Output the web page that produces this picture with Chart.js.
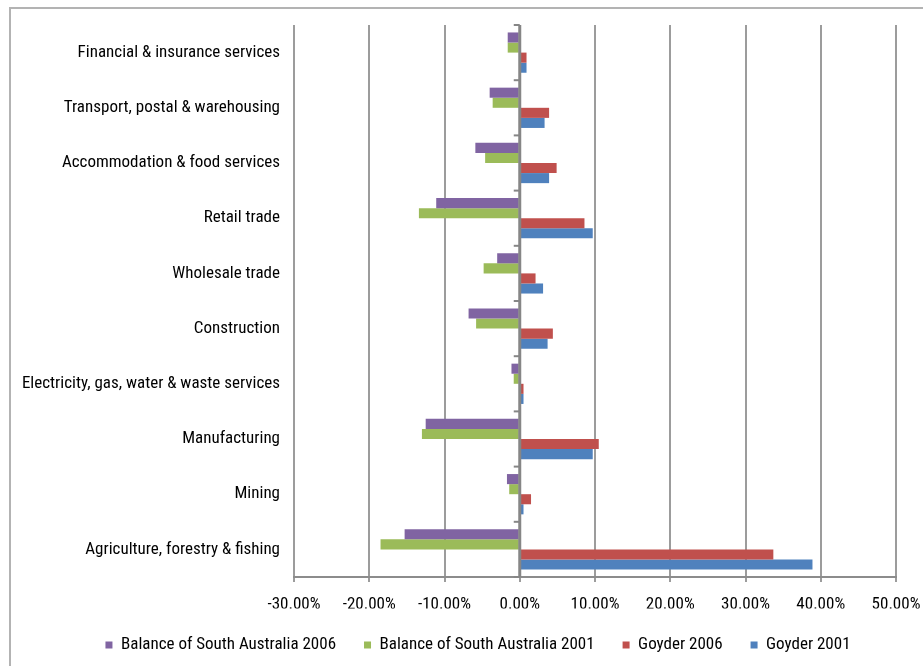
<!DOCTYPE html>
<html>
<head>
<meta charset="utf-8">
<script src="https://cdn.jsdelivr.net/npm/chart.js@4"></script>
<style>
    html, body { margin: 0; padding: 0; background: #fff; overflow: hidden; }
    .frame { position: absolute; left: 9px; top: 7px; width: 940px; height: 700px; border: 2px solid #b3b3b3; }
    .wrap { position: absolute; left: 0; top: 0; width: 923px; height: 666px; }
</style>
</head>
<body>
<div class="frame"></div>
<div class="wrap"><canvas id="chart" width="923" height="666"></canvas></div>
<script>
// industry share differences (%), top to bottom as in the chart
const categories = [
    'Financial & insurance services',
    'Transport, postal & warehousing',
    'Accommodation & food services',
    'Retail trade',
    'Wholesale trade',
    'Construction',
    'Electricity, gas, water & waste services',
    'Manufacturing',
    'Mining',
    'Agriculture, forestry & fishing'
];
const balance2006 = [-1.6, -4.0, -5.9, -11.1, -3.0, -6.8, -1.1, -12.5, -1.7, -15.3];
const balance2001 = [-1.6, -3.6, -4.6, -13.4, -4.8, -5.8, -0.8, -13.0, -1.4, -18.5];
const goyder2006 = [0.9, 3.9, 4.9, 8.6, 2.1, 4.4, 0.5, 10.5, 1.5, 33.7];
const goyder2001 = [0.9, 3.3, 3.9, 9.7, 3.1, 3.7, 0.5, 9.7, 0.5, 38.9];
const xTicks = [-30, -20, -10, 0, 10, 20, 30, 40, 50];

const FONT = "'Roboto Condensed', 'Liberation Sans Narrow', sans-serif";

// zero axis line with small category tick marks, drawn over the bars
const zeroAxis = {
    id: 'zeroAxis',
    beforeInit(chart) {
        // fixed legend height, and nudge it right like Excel's legend
        const lg = chart.legend;
        const fit = lg.fit;
        lg.fit = function () {
            fit.call(this);
            this.height = 57.5;
        };
        const draw = lg.draw;
        lg.draw = function () {
            this.left += 22;
            this.right += 22;
            draw.call(this);
            this.left -= 22;
            this.right -= 22;
        };
    },
    afterDatasetsDraw(chart) {
        const { ctx, chartArea, scales } = chart;
        const x0 = scales.x.getPixelForValue(0);
        const n = categories.length;
        const step = (chartArea.bottom - chartArea.top) / n;
        ctx.save();
        ctx.strokeStyle = '#868686';
        ctx.lineWidth = 3;
        ctx.beginPath();
        ctx.moveTo(x0, chartArea.top);
        ctx.lineTo(x0, chartArea.bottom);
        ctx.stroke();
        ctx.lineWidth = 2;
        for (let i = 0; i <= n; i++) {
            const y = chartArea.top + i * step;
            ctx.beginPath();
            ctx.moveTo(x0 - 6, y);
            ctx.lineTo(x0, y);
            ctx.stroke();
        }
        ctx.restore();
    }
};

const mk = (label, data, color) => ({
    label: label,
    data: data,
    backgroundColor: color,
    borderWidth: 0,
    barPercentage: 1,
    categoryPercentage: 0.73
});

new Chart(document.getElementById('chart'), {
    type: 'bar',
    data: {
        labels: categories,
        datasets: [
            mk('Balance of South Australia 2006', balance2006, '#8064A2'),
            mk('Balance of South Australia 2001', balance2001, '#9BBB59'),
            mk('Goyder 2006', goyder2006, '#C0504D'),
            mk('Goyder 2001', goyder2001, '#4F81BD')
        ]
    },
    options: {
        indexAxis: 'y',
        responsive: false,
        animation: false,
        devicePixelRatio: 1,
        layout: { padding: { top: 25, right: 27, bottom: 0, left: 16 } },
        plugins: {
            legend: {
                position: 'bottom',
                labels: {
                    color: '#000',
                    font: { family: FONT, size: 17 },
                    boxWidth: 7,
                    boxHeight: 7,
                    padding: 28
                }
            },
            tooltip: { enabled: false }
        },
        scales: {
            x: {
                min: -30,
                max: 50,
                afterBuildTicks: (s) => { s.ticks = xTicks.map(v => ({ value: v })); },
                afterFit: (s) => {
                    s.height = 31.5;
                    s.paddingLeft = 0;
                    s.paddingRight = 0;
                },
                grid: { color: '#9c9c9c', lineWidth: 2, tickLength: 5, drawTicks: true },
                border: { color: '#8c8c8c', width: 2 },
                ticks: {
                    color: '#000',
                    font: { family: FONT, size: 17 },
                    padding: 13,
                    maxRotation: 0,
                    callback: (v) => Number(v).toFixed(2) + '%'
                }
            },
            y: {
                afterFit: (s) => { s.width = 278; },
                grid: { display: false, drawTicks: false },
                border: { display: false },
                ticks: {
                    color: '#000',
                    font: { family: FONT, size: 17 },
                    padding: 14
                }
            }
        }
    },
    plugins: [zeroAxis]
});
</script>
</body>
</html>
